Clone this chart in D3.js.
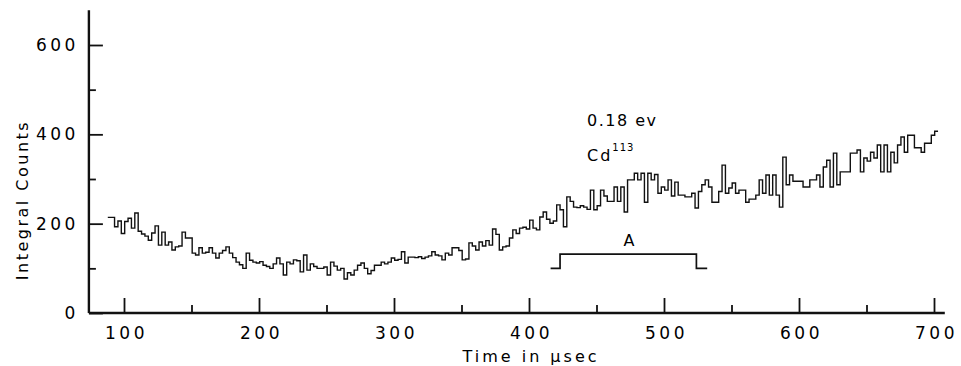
<!DOCTYPE html>
<html>
<head>
<meta charset="utf-8">
<script src="https://cdn.jsdelivr.net/npm/d3@7"></script>
<style>
  body { margin: 0; background: #fff; }
  svg text { font-family: "DejaVu Sans", sans-serif; fill: #000; }
  .axis text { font-size: 17px; letter-spacing: 3.5px; }
  .axis line { stroke: #111; stroke-width: 1.8px; }
</style>
</head>
<body>
<div id="chart"></div>
<script>
// histogram bins (time in usec, width 2.5)
var binStart = 88;
var binWidth = 2.5;
var counts = [
  214, 214, 193, 206, 178, 205, 212, 190, 224, 183,
  177, 172, 163, 179, 195, 152, 181, 152, 159, 141,
  148, 150, 181, 168, 168, 134, 130, 146, 134, 136,
  146, 134, 123, 134, 140, 148, 134, 124, 114, 108,
  100, 134, 118, 114, 112, 115, 107, 104, 100, 110,
  123, 110, 85, 114, 110, 119, 117, 92, 130, 96,
  110, 104, 100, 100, 103, 85, 114, 105, 96, 100,
  76, 90, 85, 96, 107, 112, 100, 88, 95, 107,
  107, 114, 110, 114, 123, 118, 120, 137, 112, 125,
  125, 124, 126, 122, 125, 128, 137, 130, 128, 119,
  134, 130, 146, 146, 140, 119, 121, 157, 150, 141,
  159, 150, 162, 152, 188, 176, 141, 148, 150, 168,
  186, 178, 190, 192, 188, 208, 190, 186, 215, 226,
  210, 201, 206, 242, 231, 193, 260, 250, 237, 236,
  240, 237, 232, 275, 231, 240, 275, 262, 250, 250,
  282, 250, 282, 226, 298, 298, 313, 298, 313, 248,
  313, 298, 310, 268, 282, 275, 298, 262, 293, 264,
  264, 260, 260, 268, 235, 272, 287, 298, 282, 248,
  248, 272, 331, 268, 280, 291, 268, 275, 275, 248,
  255, 255, 264, 298, 268, 309, 264, 309, 264, 237,
  349, 287, 309, 295, 295, 295, 282, 282, 298, 298,
  309, 282, 327, 342, 282, 358, 287, 316, 316, 316,
  358, 358, 365, 316, 347, 340, 360, 347, 376, 316,
  376, 316, 360, 336, 376, 394, 360, 398, 398, 370,
  370, 360, 380, 380, 398, 407
];

// tick values
var xTicks = d3.range(100, 701, 50);
var yTicks = d3.range(0, 601, 100);
var xExtent = [74, 708];
var yExtent = [0, 678];

// window "A" marker
var bracketT = [416, 423, 423, 524, 524, 532];
var bracketV = [100, 100, 132, 132, 100, 100];

var width = 961, height = 366;

var svg = d3.select("#chart").append("svg")
  .attr("width", width)
  .attr("height", height);

var x = d3.scaleLinear().domain([100, 700]).range([124, 934]);
var y = d3.scaleLinear().domain([0, 600]).range([313, 45]);

// Axes
var xAxis = d3.axisBottom(x)
  .tickValues(xTicks)
  .tickSizeOuter(0)
  .tickPadding(5)
  .tickFormat(function(d){ return d % 100 == 0 ? d : ""; });

var gx = svg.append("g")
  .attr("class", "axis x-axis")
  .attr("transform", "translate(0," + y(0) + ")")
  .call(xAxis);
gx.select(".domain").remove();
gx.selectAll(".tick line")
  .attr("y2", function(d){ return d % 100 == 0 ? -15 : -8; });
gx.selectAll(".tick text").attr("dy", "0.9em").attr("dx", 2);

var yAxis = d3.axisLeft(y)
  .tickValues(yTicks)
  .tickSizeOuter(0)
  .tickPadding(4)
  .tickFormat(function(d){ return d % 200 == 0 ? d : ""; });

var gy = svg.append("g")
  .attr("class", "axis y-axis")
  .attr("transform", "translate(" + x(xExtent[0]) + ",0)")
  .call(yAxis);
gy.select(".domain").remove();
gy.selectAll(".tick line")
  .attr("x2", function(d){ return d % 200 == 0 ? 14 : 7; });

// axis lines
svg.append("line")
  .attr("x1", x(xExtent[0])).attr("x2", x(xExtent[1]))
  .attr("y1", y(0)).attr("y2", y(0))
  .attr("stroke", "#111").attr("stroke-width", 2.4);
svg.append("line")
  .attr("x1", x(xExtent[0])).attr("x2", x(xExtent[0]))
  .attr("y1", y(yExtent[0])).attr("y2", y(yExtent[1]))
  .attr("stroke", "#111").attr("stroke-width", 2.4);

// Axis titles
svg.append("text")
  .attr("x", 531)
  .attr("y", 362)
  .attr("text-anchor", "middle")
  .style("font-size", "16px")
  .style("letter-spacing", "3px")
  .text("Time in \u03bcsec");

svg.append("text")
  .attr("text-anchor", "middle")
  .attr("transform", "translate(28,200)rotate(-90)")
  .style("font-size", "16px")
  .style("letter-spacing", "2.5px")
  .text("Integral Counts");

// Step histogram
var pts = counts.map(function(v, i){ return {t: binStart + i * binWidth, v: v}; });
pts.push({t: binStart + counts.length * binWidth, v: counts[counts.length - 1]});

var stepLine = d3.line()
  .x(function(d){ return x(d.t); })
  .y(function(d){ return y(d.v); })
  .curve(d3.curveStepAfter);

svg.append("path")
  .datum(pts)
  .attr("fill", "none")
  .attr("stroke", "#111")
  .attr("stroke-width", 1.4)
  .attr("d", stepLine);

// Bracket A
var bracket = bracketT.map(function(t, i){ return {t: t, v: bracketV[i]}; });
svg.append("path")
  .datum(bracket)
  .attr("fill", "none")
  .attr("stroke", "#111")
  .attr("stroke-width", 1.7)
  .attr("d", d3.line().x(function(d){ return x(d.t); }).y(function(d){ return y(d.v); }));

svg.append("text")
  .attr("x", x(474))
  .attr("y", y(150))
  .attr("text-anchor", "middle")
  .style("font-size", "16px")
  .text("A");

// Annotation
svg.append("text")
  .attr("x", 587)
  .attr("y", 126)
  .style("font-size", "16px")
  .style("letter-spacing", "1.5px")
  .text("0.18 ev");

var cd = svg.append("text")
  .attr("x", 587)
  .attr("y", 161)
  .style("font-size", "16px")
  .style("letter-spacing", "2px");
cd.append("tspan").text("Cd");
cd.append("tspan")
  .attr("dy", -10)
  .style("font-size", "10px")
  .style("letter-spacing", "1px")
  .text("113");
</script>
</body>
</html>
